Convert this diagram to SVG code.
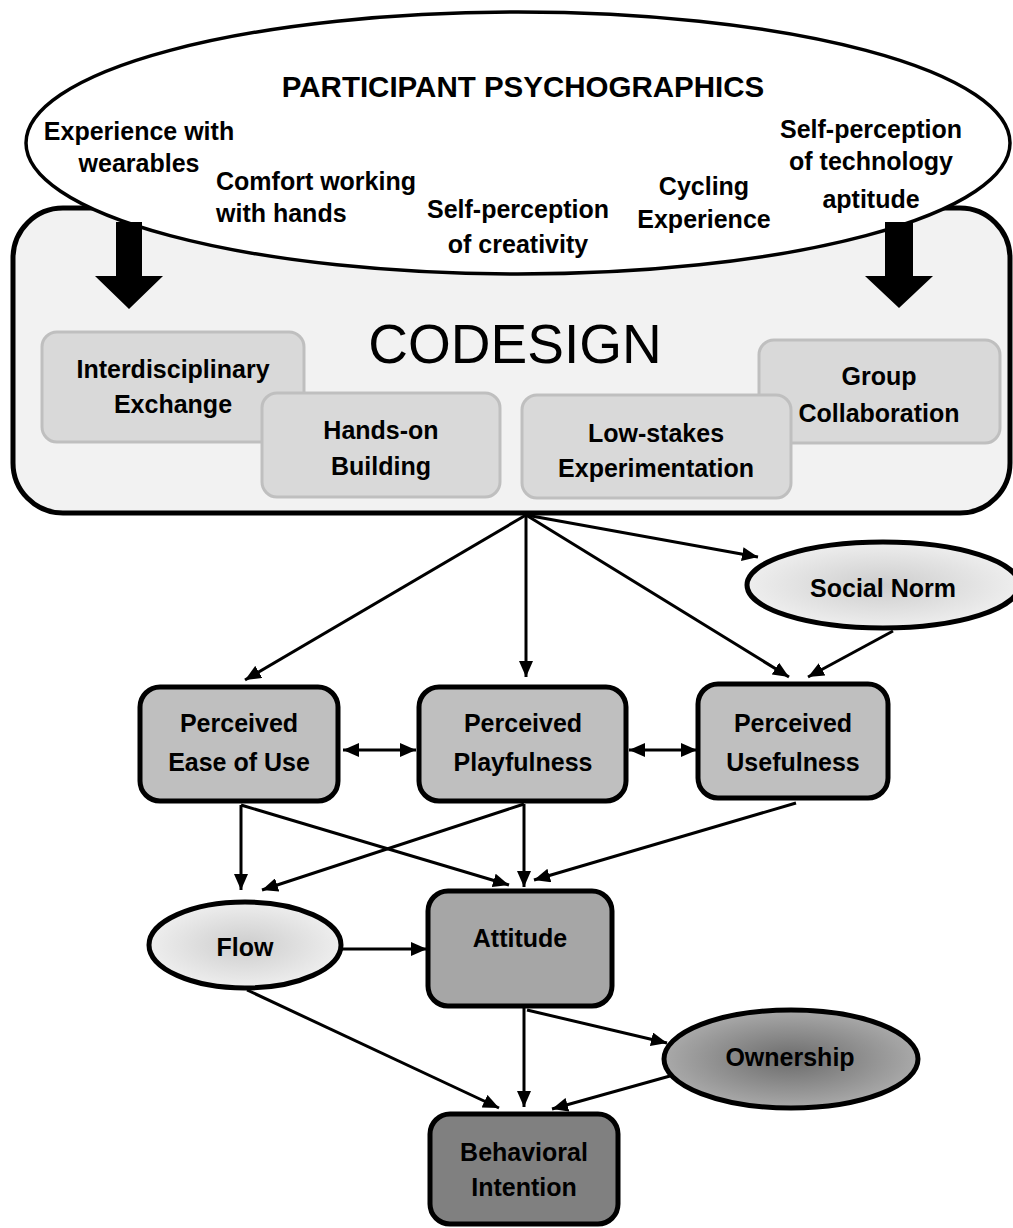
<svg xmlns="http://www.w3.org/2000/svg" width="1013" height="1228" viewBox="0 0 1013 1228">
<style>
text{font-family:"Liberation Sans",Arial,sans-serif;font-weight:bold;fill:#000}
.t{font-size:25px;text-anchor:middle}
.p{font-size:25px;text-anchor:middle}
.sub{fill:#d9d9d9;stroke:#bfbfbf;stroke-width:3}
.node{stroke:#000;stroke-width:5}
.c{stroke:#000;stroke-width:3;fill:none;marker-end:url(#ah)}
</style>
<defs>
<marker id="ah" viewBox="0 0 16 14" refX="16" refY="7" markerWidth="16" markerHeight="14" markerUnits="userSpaceOnUse" orient="auto-start-reverse">
<path d="M0,0 L16,7 L0,14 z" fill="#000"/>
</marker>
<radialGradient id="gl" cx="0.5" cy="0.5" r="0.5">
<stop offset="0" stop-color="#cdcdcd"/>
<stop offset="1" stop-color="#eeeeee"/>
</radialGradient>
<radialGradient id="gd" cx="0.5" cy="0.5" r="0.5">
<stop offset="0" stop-color="#6c6c6c"/>
<stop offset="1" stop-color="#a9a9a9"/>
</radialGradient>
</defs>

<g id="codesign">
<rect x="13" y="208" width="997" height="305" rx="50" fill="#f2f2f2" stroke="#000" stroke-width="5"/>
<text x="515" y="363" style="font-size:55px;font-weight:normal;text-anchor:middle">CODESIGN</text>
</g>
<g id="interdisciplinary">
<rect class="sub" x="42" y="332" width="262" height="110" rx="15"/>
<text class="t" x="173" y="378">Interdisciplinary</text>
<text class="t" x="173" y="413">Exchange</text>
</g>
<g id="hands-on">
<rect class="sub" x="262" y="393" width="238" height="104" rx="15"/>
<text class="t" x="381" y="439">Hands-on</text>
<text class="t" x="381" y="475">Building</text>
</g>
<g id="group">
<rect class="sub" x="759" y="340" width="241" height="103" rx="15"/>
<text class="t" x="879" y="385">Group</text>
<text class="t" x="879" y="422">Collaboration</text>
</g>
<g id="low-stakes">
<rect class="sub" x="522" y="395" width="269" height="103" rx="15"/>
<text class="t" x="656" y="442">Low-stakes</text>
<text class="t" x="656" y="477">Experimentation</text>
</g>

<g id="psychographics">
<ellipse cx="518" cy="143" rx="492" ry="131" fill="#fff" stroke="#000" stroke-width="3.5"/>
<text x="523" y="97" style="font-size:29.5px;text-anchor:middle">PARTICIPANT PSYCHOGRAPHICS</text>
<text class="p" x="139" y="140">Experience with</text>
<text class="p" x="139" y="172">wearables</text>
<text class="p" x="216" y="190" style="text-anchor:start">Comfort working</text>
<text class="p" x="216" y="222" style="text-anchor:start">with hands</text>
<text class="p" x="518" y="218">Self-perception</text>
<text class="p" x="518" y="253">of creativity</text>
<text class="p" x="704" y="195">Cycling</text>
<text class="p" x="704" y="228">Experience</text>
<text class="p" x="871" y="138">Self-perception</text>
<text class="p" x="871" y="170">of technology</text>
<text class="p" x="871" y="208">aptitude</text>
</g>

<g id="block-arrows" fill="#000">
<path d="M116,222 L142,222 L142,276 L163,276 L129,309 L95,276 L116,276 z"/>
<path d="M885,222 L913,222 L913,276 L933,276 L899,308 L865,276 L885,276 z"/>
</g>

<g id="social-norm">
<ellipse cx="883" cy="585" rx="136" ry="43" fill="url(#gl)" class="node"/>
<text class="t" x="883" y="597">Social Norm</text>
</g>
<g id="ease">
<rect class="node" x="140" y="687" width="198" height="114" rx="20" fill="#bfbfbf"/>
<text class="t" x="239" y="732">Perceived</text>
<text class="t" x="239" y="771">Ease of Use</text>
</g>
<g id="playfulness">
<rect class="node" x="419" y="687" width="207" height="114" rx="20" fill="#bfbfbf"/>
<text class="t" x="523" y="732">Perceived</text>
<text class="t" x="523" y="771">Playfulness</text>
</g>
<g id="usefulness">
<rect class="node" x="698" y="684" width="190" height="114" rx="20" fill="#bfbfbf"/>
<text class="t" x="793" y="732">Perceived</text>
<text class="t" x="793" y="771">Usefulness</text>
</g>
<g id="flow">
<ellipse cx="245" cy="945" rx="96" ry="43" fill="url(#gl)" class="node"/>
<text class="t" x="245" y="956">Flow</text>
</g>
<g id="attitude">
<rect class="node" x="428" y="891" width="184" height="115" rx="20" fill="#a6a6a6"/>
<text class="t" x="520" y="947">Attitude</text>
</g>
<g id="ownership">
<ellipse cx="791" cy="1059" rx="127" ry="49" fill="url(#gd)" class="node"/>
<text class="t" x="790" y="1066">Ownership</text>
</g>
<g id="behavioral">
<rect class="node" x="430" y="1114" width="188" height="110" rx="20" fill="#808080"/>
<text class="t" x="524" y="1161">Behavioral</text>
<text class="t" x="524" y="1196">Intention</text>
</g>

<g id="connectors">
<line class="c" x1="526" y1="515" x2="245" y2="680"/>
<line class="c" x1="526" y1="515" x2="526" y2="677"/>
<line class="c" x1="526" y1="515" x2="789" y2="677"/>
<line class="c" x1="526" y1="515" x2="758" y2="557"/>
<line class="c" x1="893" y1="631" x2="808" y2="677"/>
<line class="c" x1="343" y1="750" x2="416" y2="750" style="marker-start:url(#ah)"/>
<line class="c" x1="629" y1="750" x2="697" y2="750" style="marker-start:url(#ah)"/>
<line class="c" x1="241" y1="805" x2="241" y2="890"/>
<line class="c" x1="241" y1="805" x2="509" y2="885"/>
<line class="c" x1="524" y1="804" x2="262" y2="890"/>
<line class="c" x1="524" y1="804" x2="524" y2="887"/>
<line class="c" x1="796" y1="803" x2="534" y2="880"/>
<line class="c" x1="342" y1="949" x2="427" y2="949"/>
<line class="c" x1="524" y1="1008" x2="524" y2="1107"/>
<line class="c" x1="527" y1="1010" x2="667" y2="1043"/>
<line class="c" x1="247" y1="990" x2="499" y2="1108"/>
<line class="c" x1="670" y1="1076" x2="552" y2="1109"/>
</g>
</svg>
